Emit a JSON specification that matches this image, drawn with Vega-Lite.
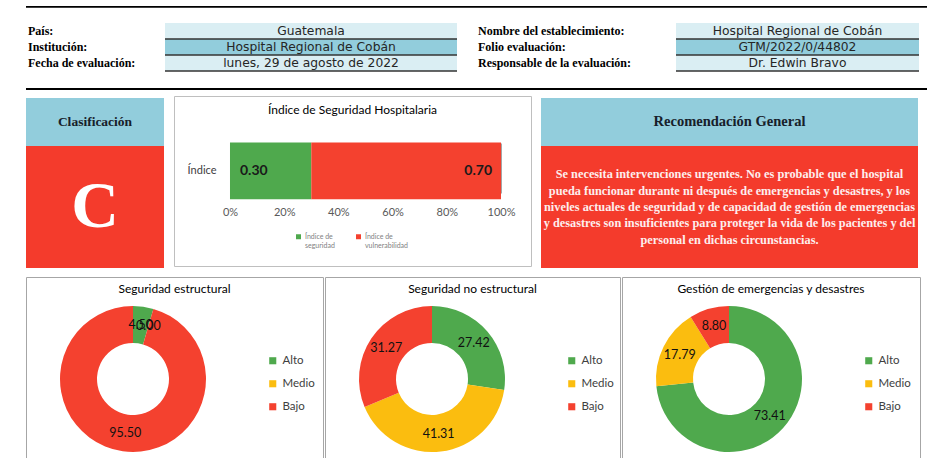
{
 "$schema": "https://vega.github.io/schema/vega-lite/v6.json",
 "background": "white",
 "padding": {"left": 25, "top": 0, "right": 0, "bottom": 0},
 "spacing": 0,
 "config": {"view": {"stroke": null}, "font": "Lato"},
 "datasets": {
  "vacio": [{}],
  "cabeceraIzq": [
   {"campo": "País:", "valor": "Guatemala"},
   {"campo": "Institución:", "valor": "Hospital Regional de Cobán"},
   {"campo": "Fecha de evaluación:", "valor": "lunes, 29 de agosto de 2022"}
  ],
  "cabeceraDer": [
   {"campo": "Nombre del establecimiento:", "valor": "Hospital Regional de Cobán"},
   {"campo": "Folio evaluación:", "valor": "GTM/2022/0/44802"},
   {"campo": "Responsable de la evaluación:", "valor": "Dr. Edwin Bravo"}
  ],
  "resumen": [
   {"clasificacion_titulo": "Clasificación", "clasificacion": "C", "recomendacion_titulo": "Recomendación General",
    "recomendacion": "Se necesita intervenciones urgentes. No es probable que el hospital\npueda funcionar durante ni después de emergencias y desastres, y los\nniveles actuales de seguridad y de capacidad de gestión de emergencias\ny desastres son insuficientes para proteger la vida de los pacientes y del\npersonal en dichas circunstancias."}
  ],
  "indice": [
   {"eje": "Índice", "serie": "Índice de seguridad", "valor": 0.30, "orden": 1},
   {"eje": "Índice", "serie": "Índice de vulnerabilidad", "valor": 0.70, "orden": 2}
  ],
  "niveles": [
   {"grupo": "Seguridad estructural", "nivel": "Alto", "valor": 4.50, "orden": 1},
   {"grupo": "Seguridad estructural", "nivel": "Medio", "valor": 0.00, "orden": 2},
   {"grupo": "Seguridad estructural", "nivel": "Bajo", "valor": 95.50, "orden": 3},
   {"grupo": "Seguridad no estructural", "nivel": "Alto", "valor": 27.42, "orden": 1},
   {"grupo": "Seguridad no estructural", "nivel": "Medio", "valor": 41.31, "orden": 2},
   {"grupo": "Seguridad no estructural", "nivel": "Bajo", "valor": 31.27, "orden": 3},
   {"grupo": "Gestión de emergencias y desastres", "nivel": "Alto", "valor": 73.41, "orden": 1},
   {"grupo": "Gestión de emergencias y desastres", "nivel": "Medio", "valor": 17.79, "orden": 2},
   {"grupo": "Gestión de emergencias y desastres", "nivel": "Bajo", "valor": 8.80, "orden": 3}
  ]
 },
 "resolve": {"scale": {"x": "independent", "y": "independent", "color": "independent", "fill": "independent", "theta": "independent"}, "legend": {"color": "independent", "fill": "independent"}},
 "vconcat": [
  {"width": 1, "height": 6, "data": {"name": "vacio"}, "mark": {"type": "rect", "opacity": 0}, "encoding": {}},
  {"width": 902, "height": 1.5, "data": {"name": "vacio"}, "view": {"fill": "#000000"}, "mark": {"type": "rect", "color": "#000000"}, "encoding": {}},
  {"width": 1, "height": 14.5, "data": {"name": "vacio"}, "mark": {"type": "rect", "opacity": 0}, "encoding": {}},
  {
   "spacing": 0,
   "resolve": {"scale": {"x": "independent", "y": "independent", "color": "independent", "fill": "independent"}, "legend": {"color": "independent", "fill": "independent"}},
   "hconcat": [
    {
     "width": 138, "height": 48,
     "data": {"name": "cabeceraIzq"},
     "mark": {"type": "text", "align": "left", "baseline": "middle", "font": "Liberation Serif", "fontWeight": "bold", "fontSize": 12, "color": "#000000", "dx": 2},
     "encoding": {
      "y": {"field": "campo", "type": "nominal", "sort": null, "scale": {"type": "band", "paddingInner": 0, "paddingOuter": 0}, "axis": null},
      "x": {"datum": 0, "type": "quantitative", "scale": {"domain": [0, 1]}, "axis": null},
      "text": {"field": "campo"}
     }
    },
    {
     "width": 292, "height": 48,
     "data": {"name": "cabeceraIzq"},
     "encoding": {
      "y": {"field": "campo", "type": "nominal", "sort": null, "scale": {"type": "band", "paddingInner": 0, "paddingOuter": 0}, "axis": null}
     },
     "layer": [
      {"mark": {"type": "rect"}, "encoding": {"fill": {"field": "campo", "type": "nominal", "scale": {"domain": ["País:", "Institución:", "Fecha de evaluación:"], "range": ["#daeef3", "#92cddc", "#daeef3"]}, "legend": null}}},
      {"mark": {"type": "rule", "color": "#333333", "strokeWidth": 1.5}, "encoding": {"y": {"field": "campo", "type": "nominal", "sort": null, "bandPosition": 1, "axis": null}}},
      {"mark": {"type": "text", "font": "DejaVu Sans", "fontSize": 12.3, "color": "#262626"}, "encoding": {"text": {"field": "valor"}}}
     ]
    },
    {
     "width": 217, "height": 48,
     "data": {"name": "cabeceraDer"},
     "mark": {"type": "text", "align": "left", "baseline": "middle", "font": "Liberation Serif", "fontWeight": "bold", "fontSize": 12, "color": "#000000", "dx": 20},
     "encoding": {
      "y": {"field": "campo", "type": "nominal", "sort": null, "scale": {"type": "band", "paddingInner": 0, "paddingOuter": 0}, "axis": null},
      "x": {"datum": 0, "type": "quantitative", "scale": {"domain": [0, 1]}, "axis": null},
      "text": {"field": "campo"}
     }
    },
    {
     "width": 243, "height": 48,
     "data": {"name": "cabeceraDer"},
     "encoding": {
      "y": {"field": "campo", "type": "nominal", "sort": null, "scale": {"type": "band", "paddingInner": 0, "paddingOuter": 0}, "axis": null}
     },
     "layer": [
      {"mark": {"type": "rect"}, "encoding": {"fill": {"field": "campo", "type": "nominal", "scale": {"domain": ["Nombre del establecimiento:", "Folio evaluación:", "Responsable de la evaluación:"], "range": ["#daeef3", "#92cddc", "#daeef3"]}, "legend": null}}},
      {"mark": {"type": "rule", "color": "#333333", "strokeWidth": 1.5}, "encoding": {"y": {"field": "campo", "type": "nominal", "sort": null, "bandPosition": 1, "axis": null}}},
      {"mark": {"type": "text", "font": "DejaVu Sans", "fontSize": 12.3, "color": "#262626"}, "encoding": {"text": {"field": "valor"}}}
     ]
    }
   ]
  },
  {"width": 1, "height": 16, "data": {"name": "vacio"}, "mark": {"type": "rect", "opacity": 0}, "encoding": {}},
  {"width": 902, "height": 2, "data": {"name": "vacio"}, "view": {"fill": "#000000"}, "mark": {"type": "rect", "color": "#000000"}, "encoding": {}},
  {"width": 1, "height": 5, "data": {"name": "vacio"}, "mark": {"type": "rect", "opacity": 0}, "encoding": {}},
  {
   "spacing": 9,
   "resolve": {"scale": {"x": "independent", "y": "independent", "color": "independent", "fill": "independent"}, "legend": {"color": "independent", "fill": "independent"}},
   "hconcat": [
    {
     "spacing": 0,
     "vconcat": [
      {"width": 1, "height": 2, "data": {"name": "vacio"}, "mark": {"type": "rect", "opacity": 0}, "encoding": {}},
      {"width": 138, "height": 48, "data": {"name": "resumen"}, "view": {"fill": "#92cddc"},
       "mark": {"type": "text", "font": "Liberation Serif", "fontWeight": "bold", "fontSize": 13.5, "color": "#17202a"},
       "encoding": {"text": {"field": "clasificacion_titulo"}}},
      {"width": 138, "height": 122, "data": {"name": "resumen"}, "view": {"fill": "#f43b2c"},
       "mark": {"type": "text", "font": "Liberation Serif", "fontWeight": "bold", "fontSize": 66, "color": "#ffffff", "baseline": "middle"},
       "encoding": {"text": {"field": "clasificacion"}}}
     ]
    },
    {
     "width": 357, "height": 170,
     "view": {"stroke": "#bfbfbf", "fill": "#ffffff"},
     "title": {"text": "Índice de Seguridad Hospitalaria", "offset": -21, "anchor": "middle", "frame": "group", "font": "Lato", "fontSize": 12, "fontWeight": "normal", "color": "#000000"},
     "data": {"name": "indice"},
     "transform": [{"stack": "valor", "groupby": ["eje"], "sort": [{"field": "orden"}], "as": ["ini", "fin"]}],
     "encoding": {
      "y": {"field": "eje", "type": "nominal", "scale": {"type": "band", "paddingInner": 0, "paddingOuter": 1.861, "align": 0.41},
            "axis": {"orient": "left", "offset": -45, "ticks": false, "domain": false, "labelPadding": 3, "title": null, "labelFont": "Lato", "labelFontSize": 11, "labelColor": "#404040"}}
     },
     "layer": [
      {
       "mark": {"type": "bar"},
       "encoding": {
        "x": {"field": "ini", "type": "quantitative", "scale": {"domain": [-0.2066, 1.1107], "nice": false, "zero": false},
              "axis": {"values": [0, 0.2, 0.4, 0.6, 0.8, 1], "format": "%", "orient": "bottom", "offset": -123, "tickSize": 50, "tickColor": "#a6a6a6", "domain": false, "grid": false, "labelPadding": 13, "title": null, "labelFont": "Lato", "labelFontSize": 11, "labelColor": "#595959"}},
        "x2": {"field": "fin"},
        "color": {"field": "serie", "type": "nominal",
                  "scale": {"domain": ["Índice de seguridad", "Índice de vulnerabilidad"], "range": ["#4fa94d", "#f4412f"]},
                  "legend": {"orient": "none", "legendX": 121, "legendY": 137, "direction": "horizontal", "title": null, "symbolType": "square", "symbolSize": 25, "symbolStrokeWidth": 0, "labelFont": "Lato", "labelFontSize": 7, "labelColor": "#7f7f7f", "labelOffset": 3, "columnPadding": 20,
                             "labelExpr": "[slice(datum.label, 0, 9), slice(datum.label, 10)]"}}
       }
      },
      {
       "transform": [{"filter": "datum.orden === 1"}],
       "mark": {"type": "text", "align": "left", "baseline": "middle", "dx": 10, "font": "Lato", "fontSize": 14, "fontWeight": "bold", "color": "#1a1a1a"},
       "encoding": {"x": {"field": "ini", "type": "quantitative"}, "text": {"field": "valor", "type": "quantitative", "format": ".2f"}}
      },
      {
       "transform": [{"filter": "datum.orden === 2"}],
       "mark": {"type": "text", "align": "right", "baseline": "middle", "dx": -9, "font": "Lato", "fontSize": 14, "fontWeight": "bold", "color": "#1a1a1a"},
       "encoding": {"x": {"field": "fin", "type": "quantitative"}, "text": {"field": "valor", "type": "quantitative", "format": ".2f"}}
      }
     ]
    },
    {
     "spacing": 0,
     "vconcat": [
      {"width": 1, "height": 2, "data": {"name": "vacio"}, "mark": {"type": "rect", "opacity": 0}, "encoding": {}},
      {"width": 377, "height": 48, "data": {"name": "resumen"}, "view": {"fill": "#92cddc"},
       "mark": {"type": "text", "font": "Liberation Serif", "fontWeight": "bold", "fontSize": 14.5, "color": "#17202a"},
       "encoding": {"text": {"field": "recomendacion_titulo"}}},
      {"width": 377, "height": 122, "data": {"name": "resumen"}, "view": {"fill": "#f43b2c"},
       "mark": {"type": "text", "font": "Liberation Serif", "fontWeight": "bold", "fontSize": 12.3, "color": "#fdeeee", "align": "center", "baseline": "middle", "dy": -32.6, "lineBreak": "\n", "lineHeight": 16.3},
       "encoding": {"text": {"field": "recomendacion"}}}
     ]
    }
   ]
  },
  {"width": 1, "height": 8, "data": {"name": "vacio"}, "mark": {"type": "rect", "opacity": 0}, "encoding": {}},
  {
   "spacing": 0,
   "resolve": {"scale": {"x": "independent", "y": "independent", "color": "independent", "theta": "independent"}, "legend": {"color": "independent"}},
   "hconcat": [
    {
     "width": 297, "height": 186,
     "view": {"stroke": "#a6a6a6", "fill": "#ffffff"},
     "title": {"text": "Seguridad estructural", "offset": -19, "anchor": "middle", "frame": "group", "font": "Lato", "fontSize": 12, "fontWeight": "normal", "color": "#000000"},
     "data": {"name": "niveles"},
     "transform": [{"filter": "datum.grupo === 'Seguridad estructural'"}],
     "encoding": {
      "x": {"field": "grupo", "type": "nominal", "scale": {"type": "band", "paddingInner": 0, "paddingOuter": 0.1939, "align": 0}, "axis": null},
      "y": {"field": "grupo", "type": "nominal", "scale": {"type": "band", "paddingInner": 0, "paddingOuter": 0.12, "align": 0.75}, "axis": null},
      "theta": {"field": "valor", "type": "quantitative", "stack": true},
      "order": {"field": "orden", "type": "quantitative"}
     },
     "layer": [
      {"mark": {"type": "arc", "innerRadius": 36, "outerRadius": 73},
       "encoding": {"color": {"field": "nivel", "type": "nominal", "scale": {"domain": ["Alto", "Medio", "Bajo"], "range": ["#4fa94d", "#fbbd0f", "#f4412f"]},
                              "legend": {"orient": "none", "legendX": 241, "legendY": 78, "title": null, "symbolType": "square", "symbolSize": 50, "symbolStrokeWidth": 0, "labelFont": "Lato", "labelFontSize": 11.5, "labelColor": "#404040", "rowPadding": 10, "labelOffset": 4}}}},
      {"mark": {"type": "text", "radius": 55, "font": "Lato", "fontSize": 12.5, "color": "#111111"},
       "encoding": {"detail": {"field": "nivel"}, "text": {"field": "valor", "type": "quantitative", "format": ".2f"}}}
     ]
    },
    {
     "width": 295, "height": 186,
     "view": {"stroke": "#a6a6a6", "fill": "#ffffff"},
     "title": {"text": "Seguridad no estructural", "offset": -19, "anchor": "middle", "frame": "group", "font": "Lato", "fontSize": 12, "fontWeight": "normal", "color": "#000000"},
     "data": {"name": "niveles"},
     "transform": [{"filter": "datum.grupo === 'Seguridad no estructural'"}],
     "encoding": {
      "x": {"field": "grupo", "type": "nominal", "scale": {"type": "band", "paddingInner": 0, "paddingOuter": 0.1893, "align": 0}, "axis": null},
      "y": {"field": "grupo", "type": "nominal", "scale": {"type": "band", "paddingInner": 0, "paddingOuter": 0.12, "align": 0.75}, "axis": null},
      "theta": {"field": "valor", "type": "quantitative", "stack": true},
      "order": {"field": "orden", "type": "quantitative"}
     },
     "layer": [
      {"mark": {"type": "arc", "innerRadius": 36, "outerRadius": 73},
       "encoding": {"color": {"field": "nivel", "type": "nominal", "scale": {"domain": ["Alto", "Medio", "Bajo"], "range": ["#4fa94d", "#fbbd0f", "#f4412f"]},
                              "legend": {"orient": "none", "legendX": 241, "legendY": 78, "title": null, "symbolType": "square", "symbolSize": 50, "symbolStrokeWidth": 0, "labelFont": "Lato", "labelFontSize": 11.5, "labelColor": "#404040", "rowPadding": 10, "labelOffset": 4}}}},
      {"mark": {"type": "text", "radius": 55, "font": "Lato", "fontSize": 12.5, "color": "#111111"},
       "encoding": {"detail": {"field": "nivel"}, "text": {"field": "valor", "type": "quantitative", "format": ".2f"}}}
     ]
    },
    {
     "width": 298, "height": 186,
     "view": {"stroke": "#a6a6a6", "fill": "#ffffff"},
     "title": {"text": "Gestión de emergencias y desastres", "offset": -19, "anchor": "middle", "frame": "group", "font": "Lato", "fontSize": 12, "fontWeight": "normal", "color": "#000000"},
     "data": {"name": "niveles"},
     "transform": [{"filter": "datum.grupo === 'Gestión de emergencias y desastres'"}],
     "encoding": {
      "x": {"field": "grupo", "type": "nominal", "scale": {"type": "band", "paddingInner": 0, "paddingOuter": 0.1963, "align": 0}, "axis": null},
      "y": {"field": "grupo", "type": "nominal", "scale": {"type": "band", "paddingInner": 0, "paddingOuter": 0.12, "align": 0.75}, "axis": null},
      "theta": {"field": "valor", "type": "quantitative", "stack": true},
      "order": {"field": "orden", "type": "quantitative"}
     },
     "layer": [
      {"mark": {"type": "arc", "innerRadius": 36, "outerRadius": 73},
       "encoding": {"color": {"field": "nivel", "type": "nominal", "scale": {"domain": ["Alto", "Medio", "Bajo"], "range": ["#4fa94d", "#fbbd0f", "#f4412f"]},
                              "legend": {"orient": "none", "legendX": 241, "legendY": 78, "title": null, "symbolType": "square", "symbolSize": 50, "symbolStrokeWidth": 0, "labelFont": "Lato", "labelFontSize": 11.5, "labelColor": "#404040", "rowPadding": 10, "labelOffset": 4}}}},
      {"mark": {"type": "text", "radius": 55, "font": "Lato", "fontSize": 12.5, "color": "#111111"},
       "encoding": {"detail": {"field": "nivel"}, "text": {"field": "valor", "type": "quantitative", "format": ".2f"}}}
     ]
    }
   ]
  }
 ]
}
